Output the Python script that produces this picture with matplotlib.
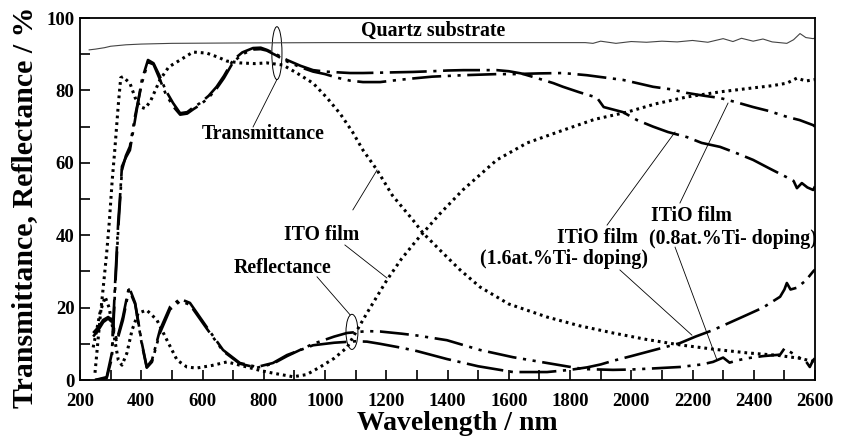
import matplotlib.pyplot as plt
from matplotlib.patches import Ellipse

# quartz substrate transmittance
quartz_nm = [230, 250, 280, 300, 350, 400, 500, 700, 1000, 1500, 1800, 1850, 1875,
             1900, 1950, 2000, 2050, 2100, 2150, 2200, 2250, 2300, 2332, 2360, 2398,
             2430, 2460, 2508, 2530, 2551, 2570, 2594, 2600]
quartz_T = [91.2, 91.4, 91.8, 92.2, 92.6, 92.8, 93.0, 93.1, 93.2, 93.2, 93.2, 93.2, 93.0,
            93.6, 93.0, 93.5, 93.3, 93.6, 93.4, 93.8, 93.3, 94.3, 93.5, 94.4, 93.6,
            94.2, 93.4, 93.0, 94.0, 95.7, 94.6, 94.3, 94.5]

# ITO film
ito_T_nm = [249, 265, 276, 287, 296, 305, 314, 325, 333, 340, 350, 363, 380, 396, 412,
            430, 461, 490, 527, 569, 614, 650, 680, 722, 770, 810, 863, 908, 961, 1006,
            1050, 1090, 1124, 1170, 1220, 1287, 1320, 1380, 1440, 1506, 1600, 1725,
            1830, 1940, 2050, 2159, 2270, 2378, 2480, 2550, 2600]
ito_T = [2, 16.6, 25.7, 35, 44, 55, 64, 76, 83.5, 83.8, 83, 82, 78, 75.5, 75,
         77, 82.9, 86.5, 88.4, 90.6, 90.3, 89.2, 88.1, 87.6, 87.4, 87.6, 87, 84.8, 82, 78,
         73.5, 68.5, 63.5, 58, 51, 44.2, 40.6, 35.5, 30.5, 25.7, 21, 17.4,
         15, 13, 11.2, 9.7, 8.5, 7.5, 6.8, 6, 5]
ito_R_nm = [243, 255, 265, 282, 295, 308, 325, 337, 353, 370, 390, 418, 451, 484, 517,
            549, 580, 630, 680, 745, 790, 830, 896, 940, 984, 1030, 1072, 1137, 1202,
            1250, 1300, 1376, 1450, 1561, 1660, 1777, 1880, 1986, 2080, 2182, 2290,
            2398, 2460, 2508, 2541, 2570, 2600]
ito_R = [9, 14, 18.5, 23, 20, 13.8, 5.5, 4.1, 7.4, 13.8, 18.5, 19.3, 16.6, 11, 5.5,
         3.6, 3.3, 4, 5, 3.6, 2.6, 1.9, 0.9, 1.5, 3.6, 6, 9, 18.5, 27.6,
         33.5, 38.7, 46, 52.5, 60.8, 65.5, 69, 72, 74, 76.3, 78.2, 79.6,
         80.7, 81.3, 82, 83.4, 82.6, 83]

# ITiO film, 1.6 at.% Ti
itio16_T_nm = [249, 287, 304, 314, 325, 330, 337, 350, 363, 380, 402, 422, 440, 460,
               480, 504, 527, 550, 570, 592, 620, 646, 670, 700, 730, 765, 790, 810,
               840, 876, 920, 961, 1000, 1040, 1082, 1124, 1180, 1230, 1287, 1350,
               1400, 1452, 1500, 1561, 1600, 1640, 1700, 1746, 1777, 1830, 1888, 1910,
               1973, 2019, 2071, 2120, 2182, 2230, 2290, 2340, 2398, 2450, 2508, 2530,
               2541, 2557, 2575, 2594, 2600]
itio16_T = [0, 0.8, 7.4, 25.7, 44, 49.7, 59, 61.5, 63.5, 72, 82.9, 88.4, 87.5, 84,
            80, 76.5, 73.7, 74, 75.3, 76.5, 78.5, 81, 84, 88.4, 90.5, 91.7, 91.8, 91.2,
            90, 88.4, 86.8, 85.6, 85.2, 85, 84.8, 84.8, 84.9, 85, 85.1, 85.3,
            85.5, 85.6, 85.6, 85.6, 85.3, 84.7, 83.2, 82, 81, 79.5, 78, 75.4,
            74.0, 71.8, 70, 68.5, 67.1, 65.5, 64.4, 62.8, 60.8, 58.5, 56, 55,
            53, 54.4, 53.2, 52.5, 53.5]
itio16_R_nm = [243, 260, 276, 292, 304, 320, 340, 360, 380, 402, 418, 435, 461, 494,
               527, 559, 614, 667, 722, 778, 830, 876, 961, 1030, 1100, 1137, 1180,
               1250, 1300, 1398, 1500, 1614, 1725, 1800, 1856, 1900, 1940, 2000, 2071,
               2120, 2159, 2210, 2267, 2320, 2378, 2430, 2486, 2500, 2508, 2520, 2541,
               2570, 2594, 2600]
itio16_R = [13, 14.6, 16.6, 17.4, 16.6, 11, 17.4, 25.7, 21.3, 10.2, 3.6, 5.5, 13.8, 20.2,
            22.4, 21.3, 14.6, 8.3, 4.7, 3.6, 4.7, 6.9, 9.6, 10.3, 10.7, 10.6, 10.0,
            8.9, 8.0, 5.8, 3.8, 2.2, 2.2, 2.8, 3.5, 4.3, 5.3, 6.6, 8.2,
            9.3, 10.2, 12.0, 13.8, 15.8, 18, 20, 23, 25, 26.8, 25, 25.5,
            27.5, 30, 30.5]

# ITiO film, 0.8 at.% Ti
itio08_T_nm = [249, 287, 304, 314, 325, 330, 337, 350, 363, 380, 402, 422, 440, 460,
               480, 504, 527, 550, 570, 592, 620, 646, 670, 700, 730, 765, 790, 810,
               840, 876, 920, 961, 1000, 1040, 1082, 1124, 1180, 1230, 1287, 1350,
               1452, 1560, 1614, 1700, 1777, 1855, 1900, 1973, 2020, 2071, 2130, 2182,
               2240, 2290, 2340, 2398, 2450, 2508, 2550, 2594, 2600]
itio08_T = [0, 0.5, 6, 24, 42, 48.5, 58, 62, 64.5, 73, 82, 87.8, 87.2, 83.2,
            79, 75.6, 73.3, 73.6, 74.8, 76, 78, 80.5, 83.4, 87.8, 90, 91.3, 91.4, 91,
            89.7, 88, 86.4, 85.2, 84.5, 83.5, 82.7, 82.3, 82.3, 82.8, 83.3, 83.8,
            84.2, 84.5, 84.5, 84.7, 84.8, 84.2, 83.7, 82.9, 82, 81, 80.3, 79.3,
            78.5, 77.9, 76.8, 75.4, 74.3, 72.7, 71.8, 70.4, 70]
itio08_R_nm = [243, 260, 276, 292, 304, 320, 340, 360, 380, 402, 418, 435, 461, 494,
               527, 559, 614, 667, 722, 778, 830, 876, 961, 1030, 1072, 1137, 1180,
               1250, 1300, 1398, 1506, 1614, 1725, 1823, 1856, 1940, 2000, 2071, 2159,
               2230, 2267, 2300, 2321, 2350, 2378, 2430, 2486, 2500, 2508, 2530, 2552,
               2570, 2583, 2594, 2600]
itio08_R = [12, 13.8, 16, 17, 16, 10.5, 16.5, 25, 21, 9.8, 3.4, 5, 13, 19.5,
            21.8, 20.8, 14.2, 8, 4.5, 3.4, 4.5, 6.6, 10.0, 12.0, 13, 13.5, 13.4,
            12.8, 12.3, 11.0, 8.3, 6.3, 4.7, 3.3, 3.0, 2.8, 2.9, 3.2, 3.6,
            4.3, 5, 6.2, 4.8, 5.5, 6, 6.6, 7, 8.7, 8.3, 7.2, 6,
            5.2, 3.6, 5.5, 6]

xticks = list(range(200, 2601, 200))
yticks = list(range(0, 101, 20))

plt.rcParams['font.family'] = ['Liberation Serif', 'DejaVu Serif']
plt.rcParams['font.weight'] = 'bold'

fig = plt.figure(figsize=(8.43, 4.36), dpi=100)
ax = fig.add_axes([0.0949, 0.1284, 0.8719, 0.8303])

dot = (0, (0.9, 1.3))
dd1 = (0, (14, 2.5, 1.2, 2.5))
dd2 = (0, (11, 2.5, 1.2, 2.5, 1.2, 2.5))

ax.plot(quartz_nm, quartz_T, color='#444444', lw=0.8)
ax.plot(ito_T_nm, ito_T, color='black', lw=2.2, ls=dot)
ax.plot(ito_R_nm, ito_R, color='black', lw=2.2, ls=dot)
ax.plot(itio16_T_nm, itio16_T, color='black', lw=1.9, ls=dd1)
ax.plot(itio16_R_nm, itio16_R, color='black', lw=1.9, ls=dd1)
ax.plot(itio08_T_nm, itio08_T, color='black', lw=1.9, ls=dd2)
ax.plot(itio08_R_nm, itio08_R, color='black', lw=1.9, ls=dd2)

# ellipses marking the curve bundles
ax.add_patch(Ellipse((843, 90.3), 33, 14.6, fill=False, lw=0.7, color='black'))
ax.add_patch(Ellipse((1088, 13.3), 39, 9.7, fill=False, lw=0.7, color='black'))

# leader lines
leaders = [
    ((765, 69.9), (843, 83.0)),
    ((974, 28.5), (1082, 18.0)),
    ((1091, 47.0), (1170, 58.0)),
    ((1065, 37.3), (1202, 28.2)),
    ((1921, 42.8), (2143, 68.5)),
    ((1963, 30.4), (2198, 12.4)),
    ((2159, 48.9), (2316, 76.5)),
    ((2143, 36.7), (2280, 5.5)),
]
for (x0, y0), (x1, y1) in leaders:
    ax.plot([x0, x1], [y0, y1], color='black', lw=0.6)

lab = dict(fontsize=14.3, fontweight='bold', ha='center', va='center')
ax.text(1353, 96.4, 'Quartz substrate', **lab)
ax.text(798, 68.0, 'Transmittance', **lab)
ax.text(860, 31.0, 'Reflectance', **lab)
ax.text(990, 40.0, 'ITO film', **lab)
ax.text(1888, 39.2, 'ITiO film', **lab)
ax.text(1780, 33.4, '(1.6at.%Ti- doping)', **lab)
ax.text(2198, 45.3, 'ITiO film', **lab)
ax.text(2332, 39.0, '(0.8at.%Ti- doping)', **lab)

ax.set_xlim(200, 2600)
ax.set_ylim(0, 100)
ax.set_xticks(xticks)
ax.set_xticks(range(300, 2600, 200), minor=True)
ax.set_yticks(yticks)
ax.set_yticks(range(10, 100, 20), minor=True)
ax.tick_params(which='both', direction='in', length=7, width=1.2, top=False, right=False,
               labelsize=13.5)
ax.tick_params(axis='x', pad=9)
ax.tick_params(axis='y', pad=4)
for t in ax.get_xticklabels() + ax.get_yticklabels():
    t.set_fontweight('bold')
for s in ax.spines.values():
    s.set_linewidth(1.3)

ax.set_xlabel('Wavelength / nm', fontsize=20, fontweight='bold')
ax.set_ylabel('Transmittance, Reflectance / %', fontsize=21.5, fontweight='bold')
ax.xaxis.set_label_coords(0.513, -0.119)
ax.yaxis.set_label_coords(-0.075, 0.478)
ax.xaxis.label.set_va('center')
ax.yaxis.label.set_va('center')

fig.savefig('out.png', dpi=100)
